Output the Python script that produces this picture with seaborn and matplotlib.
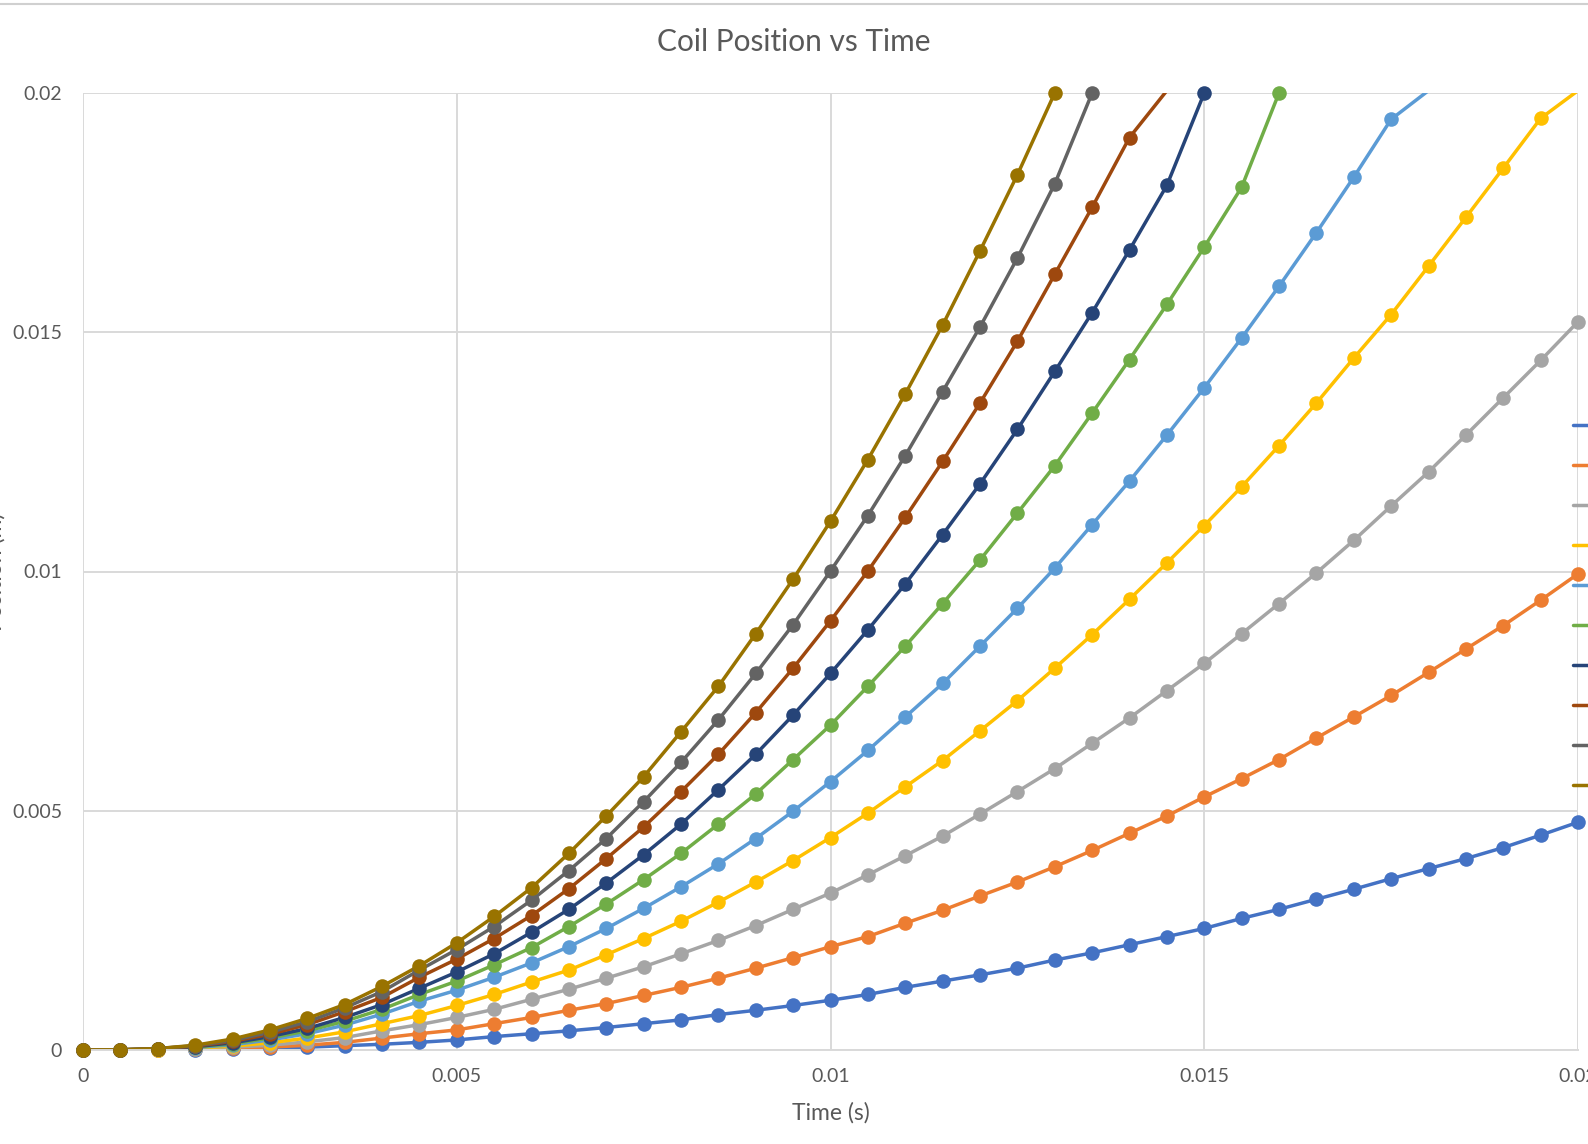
import numpy as np
import pandas as pd
import seaborn as sns
import matplotlib.pyplot as plt
from matplotlib.lines import Line2D

# Time samples (s)
time_s = [0.0, 0.0005, 0.001, 0.0015, 0.002, 0.0025, 0.003, 0.0035, 0.004, 0.0045,
          0.005, 0.0055, 0.006, 0.0065, 0.007, 0.0075, 0.008, 0.0085, 0.009, 0.0095,
          0.01, 0.0105, 0.011, 0.0115, 0.012, 0.0125, 0.013, 0.0135, 0.014, 0.0145,
          0.015, 0.0155, 0.016, 0.0165, 0.017, 0.0175, 0.018, 0.0185, 0.019, 0.0195, 0.02]

# Coil position (m) for each run
series_1 = [0, 0.000001, 0.000005, 0.00001, 0.00002, 0.00004, 0.00006, 0.00009, 0.00012, 0.00016,
            0.00021, 0.00028, 0.00034, 0.0004, 0.00047, 0.00055, 0.00063, 0.00074, 0.00083, 0.00093,
            0.00104, 0.00116, 0.00131, 0.00144, 0.00157, 0.00171, 0.00188, 0.00203, 0.0022, 0.00237,
            0.00254, 0.00275, 0.00294, 0.00315, 0.00336, 0.00358, 0.00379, 0.0040, 0.00423, 0.00449, 0.00476]
series_2 = [0, 0.000001, 0.00001, 0.00002, 0.00004, 0.00006, 0.0001, 0.00016, 0.00025, 0.00034,
            0.00042, 0.00055, 0.00068, 0.00083, 0.00097, 0.00114, 0.00131, 0.0015, 0.00171, 0.00193,
            0.00216, 0.00237, 0.00265, 0.00292, 0.00322, 0.00351, 0.00383, 0.00417, 0.00453, 0.00489,
            0.00529, 0.00567, 0.00607, 0.00652, 0.00696, 0.00741, 0.00789, 0.00838, 0.00887, 0.0094, 0.00995]
series_3 = [0, 0.000002, 0.00001, 0.00003, 0.00006, 0.0001, 0.00017, 0.00026, 0.0004, 0.00053,
            0.00068, 0.00085, 0.00106, 0.00127, 0.0015, 0.00174, 0.00201, 0.00229, 0.0026, 0.00294,
            0.00328, 0.00366, 0.00406, 0.00447, 0.00493, 0.0054, 0.00588, 0.00641, 0.00694, 0.00751,
            0.00808, 0.0087, 0.00933, 0.00997, 0.01065, 0.01137, 0.01208, 0.01285, 0.01363, 0.01441, 0.01522]
series_4 = [0, 0.000002, 0.00001, 0.00004, 0.00008, 0.00015, 0.00025, 0.00038, 0.00055, 0.00072,
            0.00093, 0.00116, 0.00142, 0.00167, 0.00199, 0.00233, 0.00269, 0.00309, 0.00351, 0.00396,
            0.00444, 0.00495, 0.0055, 0.00605, 0.00667, 0.0073, 0.00798, 0.00868, 0.00942, 0.01018,
            0.01096, 0.01177, 0.01263, 0.01352, 0.01446, 0.01537, 0.01638, 0.0174, 0.01843, 0.01947, 0.02005]
series_5 = [0, 0.000003, 0.00002, 0.00005, 0.00011, 0.00021, 0.00034, 0.00052, 0.00075, 0.00102,
            0.00125, 0.00152, 0.00182, 0.00216, 0.00254, 0.00296, 0.00341, 0.00389, 0.00442, 0.00499,
            0.00561, 0.00626, 0.00696, 0.00766, 0.00844, 0.00923, 0.01007, 0.01098, 0.01189, 0.01285,
            0.01384, 0.01488, 0.01596, 0.01708, 0.01824, 0.01945, 0.02005]
series_6 = [0, 0.000003, 0.00002, 0.00006, 0.00013, 0.00025, 0.0004, 0.0006, 0.00085, 0.00116,
            0.00144, 0.00178, 0.00214, 0.00258, 0.00305, 0.00356, 0.00411, 0.00472, 0.00535, 0.00607,
            0.00679, 0.0076, 0.00844, 0.00933, 0.01024, 0.01122, 0.01221, 0.01331, 0.01443, 0.01558,
            0.01678, 0.01803, 0.02]
series_7 = [0, 0.000004, 0.00002, 0.00007, 0.00015, 0.00028, 0.00045, 0.00068, 0.00095, 0.00129,
            0.00163, 0.00201, 0.00246, 0.00294, 0.00349, 0.00408, 0.00472, 0.00544, 0.00618, 0.007,
            0.00787, 0.00878, 0.00974, 0.01077, 0.01183, 0.01297, 0.01418, 0.01541, 0.01672, 0.01807, 0.02]
series_8 = [0, 0.000004, 0.00003, 0.00008, 0.00018, 0.00033, 0.00053, 0.0008, 0.0011, 0.00152,
            0.0019, 0.00233, 0.00281, 0.00337, 0.004, 0.00466, 0.0054, 0.00618, 0.00705, 0.00798,
            0.00897, 0.01001, 0.01113, 0.0123, 0.01352, 0.01481, 0.01621, 0.01761, 0.01907, 0.02005]
series_9 = [0, 0.000005, 0.00003, 0.00009, 0.0002, 0.00037, 0.00059, 0.00088, 0.00122, 0.00167,
            0.0021, 0.00258, 0.00313, 0.00375, 0.00442, 0.00519, 0.00601, 0.0069, 0.00787, 0.00889,
            0.01001, 0.01117, 0.01242, 0.01376, 0.01511, 0.01655, 0.0181, 0.02]
series_10 = [0, 0.000005, 0.00003, 0.0001, 0.00023, 0.00042, 0.00066, 0.00095, 0.00133, 0.00176,
             0.00224, 0.00279, 0.00339, 0.00411, 0.00489, 0.00571, 0.00665, 0.0076, 0.0087, 0.00984,
             0.01105, 0.01234, 0.01371, 0.01515, 0.0167, 0.01829, 0.02]

series_names = ["Series1", "Series2", "Series3", "Series4", "Series5",
                "Series6", "Series7", "Series8", "Series9", "Series10"]
all_series = [series_1, series_2, series_3, series_4, series_5,
              series_6, series_7, series_8, series_9, series_10]
colors = ["#4472C4", "#ED7D31", "#A5A5A5", "#FFC000", "#5B9BD5",
          "#70AD47", "#264478", "#9E480E", "#636363", "#997300"]

tick_vals = [0, 0.005, 0.01, 0.015, 0.02]
tick_labels = ["0", "0.005", "0.01", "0.015", "0.02"]

sns.set_theme(style="white")
plt.rcParams["font.family"] = ["Lato", "DejaVu Sans"]

W, H = 1588, 1144
fig = plt.figure(figsize=(W / 100, H / 100), dpi=100)
ax = fig.add_axes([83 / W, 1 - 1050 / H, 1495 / W, 957 / H])

text_col = "#595959"
grid_col = "#D9D9D9"

handles = []
for name, vals, col in zip(series_names, all_series, colors):
    df = pd.DataFrame({"t": time_s[:len(vals)], "x": vals})
    sns.lineplot(data=df, x="t", y="x", color=col, linewidth=2.5, ax=ax,
                 label=name, legend=False)
    handles.append(Line2D([0], [0], color=col, linewidth=2.5))
    # markers only for points inside the plot range, not clipped at the edges
    shown = df[df["x"] <= 0.02]
    sns.scatterplot(data=shown, x="t", y="x", color=col, s=110, linewidth=0,
                    ax=ax, clip_on=False, zorder=3, legend=False)

if ax.get_legend() is not None:
    ax.get_legend().remove()

ax.set_xlim(0, 0.02)
ax.set_ylim(0, 0.02)
ax.set_xticks(tick_vals)
ax.set_xticklabels(tick_labels)
ax.set_yticks(tick_vals)
ax.set_yticklabels(tick_labels)
ax.tick_params(axis="both", length=0, labelsize=14, colors=text_col)
ax.tick_params(axis="x", pad=13)
ax.tick_params(axis="y", pad=15)
ax.grid(True, color=grid_col, linewidth=1.4)
ax.set_axisbelow(True)
for side in ["top", "right", "left"]:
    ax.spines[side].set_visible(False)
ax.spines["bottom"].set_color(grid_col)
ax.spines["bottom"].set_linewidth(1.4)

ax.set_xlabel("Time (s)", fontsize=16.5, color=text_col, va="center")
ax.xaxis.set_label_coords(0.5, (1050 - 1113) / 957)
ax.set_ylabel("Position (m)", fontsize=16.5, color=text_col, va="center")
ax.yaxis.set_label_coords(-88 / 1495, 0.5)

fig.text(0.5, 1 - 42 / H, "Coil Position vs Time", ha="center", va="center",
         fontsize=21.5, color=text_col)

# legend sits at the cropped right edge, labels fall outside the picture
fig.legend(handles, series_names, loc="upper left",
           bbox_to_anchor=(1573 / W, 1 - 418 / H), frameon=False,
           borderpad=0, borderaxespad=0, fontsize=13, labelspacing=1.33,
           handlelength=2.0, labelcolor=text_col)

# chart area border at the very top
fig.add_artist(Line2D([0, 1], [1 - 4 / H, 1 - 4 / H], color="#D0D0D0", linewidth=1.5))

fig.savefig("out.png", dpi=100)
